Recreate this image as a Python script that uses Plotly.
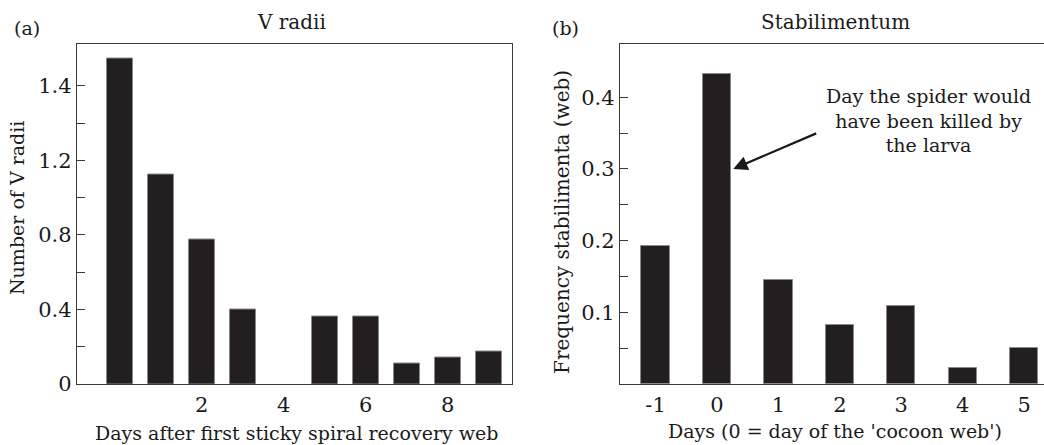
import plotly.graph_objects as go

# ---- data ----
days_a = [0, 1, 2, 3, 4, 5, 6, 7, 8, 9]
v_radii = [1.747, 1.126, 0.777, 0.401, 0.0, 0.360, 0.360, 0.109, 0.140, 0.173]
a_ytickvals = [0, 0.2, 0.4, 0.6, 0.8, 1.0, 1.2, 1.4, 1.6]
a_yticktext = ["0", "", "0.4", "", "0.8", "", "1.2", "", "1.4"]
a_xtickvals = [2, 4, 6, 8]

days_b = [-1, 0, 1, 2, 3, 4, 5]
stab_freq = [0.1926, 0.432, 0.145, 0.083, 0.1095, 0.022, 0.0508]
b_ytickvals = [0.05, 0.1, 0.15, 0.2, 0.25, 0.3, 0.35, 0.4]
b_yticktext = ["", "0.1", "", "0.2", "", "0.3", "", "0.4"]
b_xtickvals = [-1, 0, 1, 2, 3, 4, 5]
b_xticktext = ["-1", "0", "1", "2", "3", "4", "5"]

W, H = 1044, 445
FONT = "DejaVu Serif"
FS = 19
TICKFS = 21
BAR = "#231f20"
AXC = "#3a3a3a"
TXT = "#1a1a1a"

def px(x):
    return x / W

def py(y):
    return 1 - y / H

def edge_widths(vals):
    return [0 if v == 0 else 1 for v in vals]

fig = go.Figure()
fig.add_trace(go.Bar(x=days_a, y=v_radii, width=0.63,
                     marker=dict(color=BAR, line=dict(color="#8a8a8a", width=edge_widths(v_radii))),
                     xaxis="x", yaxis="y", showlegend=False))
fig.add_trace(go.Bar(x=days_b, y=stab_freq, width=0.46,
                     marker=dict(color=BAR, line=dict(color="#8a8a8a", width=edge_widths(stab_freq))),
                     xaxis="x2", yaxis="y2", showlegend=False))

common_axis = dict(showgrid=False, zeroline=False, linecolor=AXC, linewidth=1.3, automargin=False,
                   tickfont=dict(family=FONT, size=TICKFS, color=TXT))
xtick_style = dict(ticks="outside", ticklen=2, tickcolor="rgba(0,0,0,0)")

fig.update_layout(
    width=W, height=H, autosize=False,
    margin=dict(l=0, r=0, t=0, b=0, pad=0, autoexpand=False),
    paper_bgcolor="white", plot_bgcolor="white",
    font=dict(family=FONT, size=FS, color=TXT),
    xaxis=dict(domain=[px(77), px(512)], range=[-1.044, 9.566], anchor="y",
               tickmode="array", tickvals=a_xtickvals, showline=True, mirror=True,
               **xtick_style, **common_axis),
    yaxis=dict(domain=[py(384), py(43.5)], range=[0, 1.828], anchor="x",
               tickmode="array", tickvals=a_ytickvals, ticktext=a_yticktext,
               ticks="inside", ticklen=8, tickcolor=AXC, showline=True, mirror=True, **common_axis),
    xaxis2=dict(domain=[px(620), 1.0], range=[-1.579, 5.324], anchor="y2",
                tickmode="array", tickvals=b_xtickvals, ticktext=b_xticktext,
                showline=True, mirror=True, **xtick_style, **common_axis),
    yaxis2=dict(domain=[py(384), py(44)], range=[0, 0.4744], anchor="x2",
                tickmode="array", tickvals=b_ytickvals, ticktext=b_yticktext,
                ticks="inside", ticklen=8, tickcolor=AXC, showline=True, mirror=False, **common_axis),
    bargap=0,
)

def txt(x, y, s, size=FS, angle=0, yanchor="middle"):
    fig.add_annotation(x=px(x), y=py(y), xref="paper", yref="paper", text=s, showarrow=False,
                       font=dict(family=FONT, size=size, color=TXT), textangle=angle,
                       xanchor="center", yanchor=yanchor)

txt(27, 28, "(a)")
txt(291, 22, "V radii", size=20)
txt(565, 28, "(b)")
txt(835, 22, "Stabilimentum", size=20)
txt(17, 208, "Number of V radii", angle=-90)
txt(562, 222, "Frequency stabilimenta (web)", angle=-90, size=20)
txt(296, 433, "Days after first sticky spiral recovery web")
txt(835, 431, "Days (0 = day of the 'cocoon web')")

# annotation text
fig.add_annotation(x=px(928), y=py(120), xref="paper", yref="paper",
                   text="Day the spider would<br>have been killed by<br>the larva", showarrow=False,
                   font=dict(family=FONT, size=FS, color=TXT), align="center",
                   xanchor="center", yanchor="middle")
# arrow
fig.add_annotation(x=0.265, y=0.300, xref="x2", yref="y2", ax=1.64, ay=0.3506, axref="x2", ayref="y2",
                   text="", showarrow=True, arrowhead=2, arrowsize=1.3, arrowwidth=2.2, arrowcolor=TXT)

fig.write_html("out.html")
